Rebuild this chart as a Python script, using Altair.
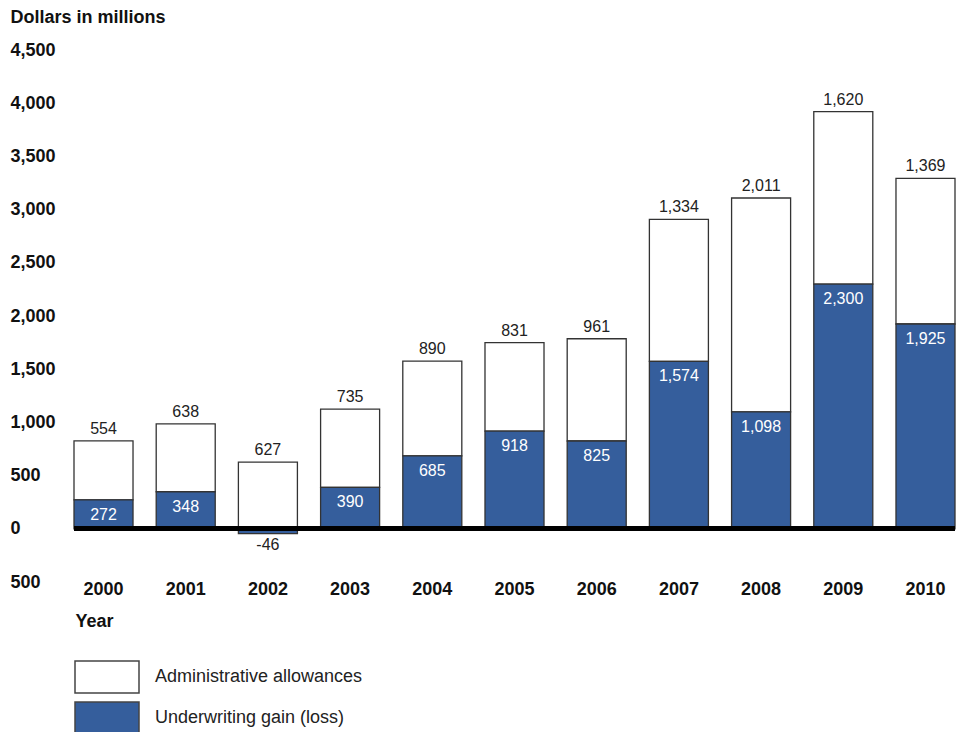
import altair as alt
import pandas as pd

years = ["2000", "2001", "2002", "2003", "2004", "2005", "2006", "2007", "2008", "2009", "2010"]
admin = [554, 638, 627, 735, 890, 831, 961, 1334, 2011, 1620, 1369]
gain = [272, 348, -46, 390, 685, 918, 825, 1574, 1098, 2300, 1925]
series_names = ["Administrative allowances", "Underwriting gain (loss)"]
series_colors = ["#ffffff", "#355e9c"]
y_ticks = [-500, 0, 500, 1000, 1500, 2000, 2500, 3000, 3500, 4000, 4500]

rows = []
for yr, a, g in zip(years, admin, gain):
    base = max(g, 0)
    rows.append({"year": yr, "series": series_names[0], "y0": base, "y1": base + a,
                 "label": f"{a:,}", "val": a})
    rows.append({"year": yr, "series": series_names[1], "y0": 0, "y1": g,
                 "label": f"{g:,}", "val": g})
df = pd.DataFrame(rows)

W, H = 881, 532
FONT = "Liberation Sans"

x_enc = alt.X("year:N", sort=years,
              scale=alt.Scale(paddingInner=0.282, paddingOuter=0),
              axis=alt.Axis(title="Year", labelAngle=0, domain=False, ticks=False, tickSize=0,
                            labelFont=FONT, labelFontSize=18, labelFontWeight="bold",
                            labelColor="#111", labelBaseline="middle", labelPadding=7,
                            titleFont=FONT, titleFontSize=18, titleFontWeight="bold",
                            titleColor="#111", titleAlign="left", titleBaseline="middle",
                            titleX=1, titleY=39, titleAnchor="start"))
y_scale = alt.Scale(domain=[-500, 4500], nice=False, zero=False)

bars = alt.Chart(df).mark_bar(stroke="#333333", strokeWidth=1.3).encode(
    x=x_enc,
    y=alt.Y("y1:Q", scale=y_scale,
            axis=alt.Axis(values=y_ticks, labelExpr="format(abs(datum.value), ',')",
                          domain=False, ticks=False, tickSize=0, grid=False,
                          labelFont=FONT, labelFontSize=18, labelFontWeight="bold",
                          labelColor="#111", labelAlign="left", labelPadding=64,
                          title="Dollars in millions", titleAngle=0, titleAlign="left",
                          titleBaseline="middle", titleX=-64, titleY=-33,
                          titleFont=FONT, titleFontSize=18, titleFontWeight="bold",
                          titleColor="#111")),
    y2="y0:Q",
    color=alt.Color("series:N", sort=series_names,
                    scale=alt.Scale(domain=series_names, range=series_colors),
                    legend=alt.Legend(title=None, orient="none", legendX=16, legendY=610,
                                      symbolType="M-2,-1H2V1H-2Z", symbolSize=1024,
                                      symbolStrokeColor="#444444", symbolStrokeWidth=1.5,
                                      symbolOpacity=1, labelLimit=500,
                                      labelFont=FONT, labelFontSize=18, labelColor="#222",
                                      labelOffset=31, rowPadding=3)),
)

zero = alt.Chart(df).mark_rule(color="black", strokeWidth=4.5).encode(
    x=alt.value(0), x2=alt.value(W), y=alt.datum(0, scale=y_scale)
)

admin_lbl = alt.Chart(df).transform_filter(
    alt.datum.series == series_names[0]
).mark_text(font=FONT, fontSize=16, color="#222", baseline="alphabetic", dy=-7).encode(
    x=alt.X("year:N", sort=years), y=alt.Y("y1:Q", scale=y_scale), text="label:N"
)

gain_pos = alt.Chart(df).transform_filter(
    (alt.datum.series == series_names[1]) & (alt.datum.val > 0)
).mark_text(font=FONT, fontSize=16, color="#ffffff", baseline="middle", dy=15).encode(
    x=alt.X("year:N", sort=years), y=alt.Y("y1:Q", scale=y_scale), text="label:N"
)

gain_neg = alt.Chart(df).transform_filter(
    (alt.datum.series == series_names[1]) & (alt.datum.val < 0)
).mark_text(font=FONT, fontSize=16, color="#222", baseline="top", dy=3).encode(
    x=alt.X("year:N", sort=years), y=alt.Y("y1:Q", scale=y_scale), text="label:N"
)

chart = alt.layer(bars, zero, admin_lbl, gain_pos, gain_neg).properties(
    width=W, height=H,
    autosize=alt.AutoSizeParams(type="none"),
    padding={"left": 66, "top": 42, "right": 3, "bottom": 150},
).configure(background="white").configure_view(stroke=None, strokeWidth=0)

chart.save("out.html", embed_options={"renderer": "svg", "actions": False})
